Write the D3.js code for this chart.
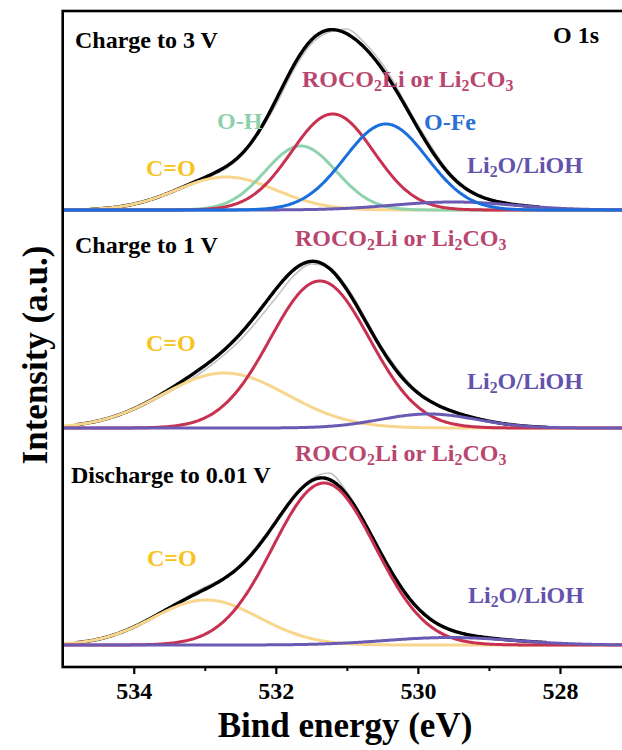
<!DOCTYPE html>
<html><head><meta charset="utf-8">
<script src="https://cdn.jsdelivr.net/npm/d3@7"></script>
<style>
body{margin:0;background:#fff}
svg{display:block}
text{font-family:"Liberation Serif","Times New Roman",serif;font-weight:bold}
</style>
</head><body>
<svg id="chart" width="622" height="750"></svg>
<script>
// Binding-energy axis (eV, decreasing to the right)
const energyDomain = [535, 527];
const majorTicks = [534, 532, 530, 528];
const minorTicks = [533, 531, 529];

const panelTitles = ["Charge to 3 V", "Charge to 1 V", "Discharge to 0.01 V"];
const spectrumTitle = "O 1s";

// Fitted O 1s components: [name, centre (eV), height, sigma (eV)]
const peaks3V = [
  ["C=O", 532.70, 33, 0.70],
  ["O-H", 531.65, 64, 0.50],
  ["ROCO2Li", 531.20, 96, 0.58],
  ["Li2O/LiOH", 529.50, 8, 0.85],
  ["O-Fe", 530.45, 86, 0.58]
];
const peaks1V = [
  ["C=O", 532.72, 55, 0.88],
  ["ROCO2Li", 531.38, 147, 0.70],
  ["Li2O/LiOH", 529.85, 14, 0.68]
];
const peaks001V = [
  ["C=O", 532.98, 45, 0.75],
  ["ROCO2Li", 531.32, 162, 0.72],
  ["Li2O/LiOH", 529.55, 7.5, 0.90]
];

// Measured spectra: [energy (eV), intensity]
const raw3V = [[534.6,1],[534.5,1.5],[534,6],[533.5,17],[533,31],[532.5,53],[532,105],[531.75,140],
  [531.5,166],[531.25,178],[531,181],[530.75,167],[530.5,146],[530,85],[529.5,33],[529,11],[528.5,4.5],[528.3,3]];
const raw1V = [[534.8,4],[534.5,7],[534,18],[533.5,36],[533,58],[532.5,88],[532,130],[531.75,152],
  [531.5,164],[531.25,161],[531,141],[530.5,80],[530,36],[529.5,16],[529,7],[528.5,2],[528.2,1]];
const raw001V = [[534.8,3],[534.5,6],[534,19],[533.5,38],[533,58],[532.75,66],[532.5,80],[532,124],
  [531.75,148],[531.5,166],[531.25,172],[531,153],[530.5,90],[530,36],[529.5,14],[529,7],[528.5,4],[528.2,2.5]];

const labelText = {
  "C=O": "C=O",
  "O-H": "O-H",
  "ROCO2Li": "ROCO_2Li or Li_2CO_3",
  "O-Fe": "O-Fe",
  "Li2O/LiOH": "Li_2O/LiOH"
};

// ---- styling & layout ----
const curveColor = {
  "C=O": "#f8d68e", "O-H": "#8fd3ae", "ROCO2Li": "#c8314f",
  "O-Fe": "#1b6fdc", "Li2O/LiOH": "#6a5ab4"
};
const labelColor = {
  "C=O": "#f6c320", "O-H": "#8ed0ab", "ROCO2Li": "#b8466f",
  "O-Fe": "#2a6fd5", "Li2O/LiOH": "#6452ad"
};

const frame = {left: 62.7, right: 631, top: 11, bottom: 667};
const baselines = [210, 428, 645];
const textSize = 24;

const panels = [
  {title: panelTitles[0], titlePos: [75, 48], peaks: peaks3V, raw: raw3V,
   labels: {"C=O": [146, 176], "O-H": [217, 129], "ROCO2Li": [302, 87], "O-Fe": [424, 130], "Li2O/LiOH": [467, 173]}},
  {title: panelTitles[1], titlePos: [75, 253], peaks: peaks1V, raw: raw1V,
   labels: {"ROCO2Li": [295, 246], "C=O": [146, 351], "Li2O/LiOH": [467, 389]}},
  {title: panelTitles[2], titlePos: [71, 483], peaks: peaks001V, raw: raw001V,
   labels: {"ROCO2Li": [295, 461], "C=O": [147, 566], "Li2O/LiOH": [468, 603]}}
];

const svg = d3.select("#chart");
const x = d3.scaleLinear().domain(energyDomain).range([frame.left, frame.right]);

svg.append("defs").append("clipPath").attr("id", "plotClip")
  .append("rect")
  .attr("x", frame.left).attr("y", frame.top)
  .attr("width", frame.right - frame.left).attr("height", frame.bottom - frame.top);

const gauss = (e, c, h, s) => h * Math.exp(-((e - c) ** 2) / (2 * s * s));
const sampleE = d3.range(energyDomain[0], energyDomain[1] - 0.001, -0.02);

const plot = svg.append("g").attr("clip-path", "url(#plotClip)");

panels.forEach((p, i) => {
  const y = d3.scaleLinear().domain([0, 200]).range([baselines[i], baselines[i] - 200]);
  const g = plot.append("g");

  // measured spectrum
  g.append("path")
    .attr("d", d3.line().x(d => x(d[0])).y(d => y(d[1])).curve(d3.curveMonotoneX)(p.raw))
    .attr("fill", "none").attr("stroke", "#c2c2c2").attr("stroke-width", 1.6);

  // fitted envelope over the measured window
  const eMax = d3.max(p.raw, d => d[0]), eMin = d3.min(p.raw, d => d[0]);
  const fitE = sampleE.filter(e => e <= eMax && e >= eMin);
  g.append("path")
    .attr("d", d3.line().x(e => x(e))
      .y(e => y(d3.sum(p.peaks, q => gauss(e, q[1], q[2], q[3]))))(fitE))
    .attr("fill", "none").attr("stroke", "#000").attr("stroke-width", 3.4)
    .attr("stroke-linejoin", "round").attr("stroke-linecap", "round");

  // individual components
  p.peaks.forEach(([name, c, h, s]) => {
    g.append("path")
      .attr("d", d3.line().x(e => x(e)).y(e => y(gauss(e, c, h, s)))(sampleE))
      .attr("fill", "none").attr("stroke", curveColor[name])
      .attr("stroke-width", 3).attr("stroke-linejoin", "round");
  });
});

// text with "_d" subscripts
function addLabel(sel, str, px, py, color, size) {
  const t = sel.append("text").attr("x", px).attr("y", py)
    .attr("fill", color).attr("font-size", size);
  const parts = str.split(/(_\d)/).filter(s => s.length);
  let sub = false;
  parts.forEach(part => {
    if (part[0] === "_") {
      t.append("tspan").attr("dy", "0.28em").attr("font-size", size * 0.66).text(part.slice(1));
      sub = true;
    } else {
      t.append("tspan").attr("dy", sub ? "-0.185em" : 0).text(part);
      sub = false;
    }
  });
  return t;
}

const labels = svg.append("g");
panels.forEach(p => {
  labels.append("text").attr("x", p.titlePos[0]).attr("y", p.titlePos[1])
    .attr("font-size", textSize).attr("fill", "#000").text(p.title);
  Object.entries(p.labels).forEach(([k, pos]) => {
    addLabel(labels, labelText[k], pos[0], pos[1], labelColor[k], textSize);
  });
});
labels.append("text").attr("x", 553).attr("y", 43).attr("font-size", textSize).text(spectrumTitle);

// frame
svg.append("rect")
  .attr("x", frame.left).attr("y", frame.top)
  .attr("width", frame.right - frame.left).attr("height", frame.bottom - frame.top)
  .attr("fill", "none").attr("stroke", "#000").attr("stroke-width", 2.6);

// bottom axis: major ticks with labels, minor ticks between
const major = svg.append("g").attr("transform", `translate(0,${frame.bottom})`)
  .call(d3.axisBottom(x).tickValues(majorTicks).tickSize(7).tickPadding(8).tickFormat(d3.format("d")));
major.select(".domain").remove();
major.selectAll(".tick line").attr("stroke", "#000").attr("stroke-width", 2.2);
major.selectAll(".tick text").attr("font-size", 24).attr("fill", "#000")
  .attr("font-family", "Liberation Serif, serif").attr("font-weight", "bold");

const minor = svg.append("g").attr("transform", `translate(0,${frame.bottom})`)
  .call(d3.axisBottom(x).tickValues(minorTicks).tickSize(4).tickFormat(""));
minor.select(".domain").remove();
minor.selectAll(".tick line").attr("stroke", "#000").attr("stroke-width", 2);

// axis titles
svg.append("text").attr("x", 345).attr("y", 737).attr("text-anchor", "middle")
  .attr("font-size", 35).text("Bind energy (eV)");
svg.append("text").attr("transform", "translate(47,355) rotate(-90)").attr("text-anchor", "middle")
  .attr("font-size", 35).text("Intensity (a.u.)");
</script>
</body></html>
